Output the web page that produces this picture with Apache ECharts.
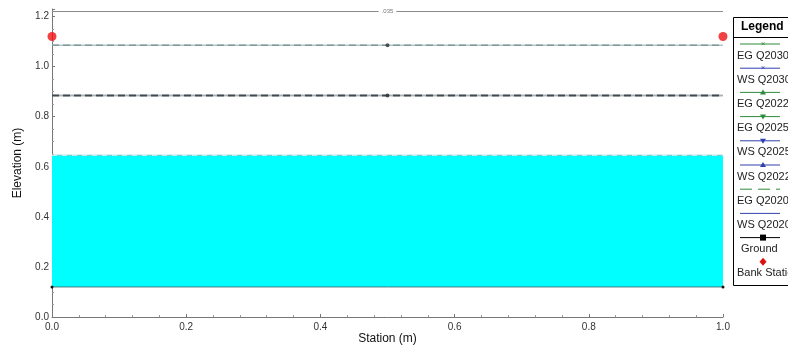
<!DOCTYPE html>
<html>
<head>
<meta charset="utf-8">
<script src="https://cdn.jsdelivr.net/npm/echarts@6/dist/echarts.min.js"></script>
<style>
  html, body { margin: 0; padding: 0; background: #fff; }
  #chart { width: 788px; height: 347px; }
</style>
</head>
<body>
<div id="chart"></div>
<script>
// cross section data (station in m, elevation in m)
const stations = [0, 0.5, 1]
const egQ2030 = [1.085, 1.085, 1.085]
const wsQ2030 = [1.085, 1.085, 1.085]
const egQ2022 = [0.885, 0.885, 0.885]
const egQ2025 = [0.885, 0.885, 0.885]
const wsQ2025 = [0.885, 0.885, 0.885]
const wsQ2022 = [0.885, 0.885, 0.885]
const egQ2020 = [0.646, 0.646, 0.646]
const wsQ2020 = [0.646, 0.646, 0.646]
const groundStations = [0, 1]
const groundElev = [0.12, 0.12]
const bankStations = [0, 1]
const bankElev = [1.12, 1.12]
const manningN = '.035'
const manningLineElev = 1.217
const legendNames = ['EG Q2030', 'WS Q2030', 'EG Q2022', 'EG Q2025', 'WS Q2025', 'WS Q2022', 'EG Q2020', 'WS Q2020', 'Ground', 'Bank Station']

const pts = (xs, ys) => xs.map((x, i) => [x, ys[i]])
const font = 'Liberation Sans, Arial, sans-serif'

const lineSeries = (name, ys, color, type, width, z) => ({
  name,
  type: 'line',
  data: pts(stations, ys),
  showSymbol: false,
  lineStyle: { color, width, type },
  z
})

const chart = echarts.init(document.getElementById('chart'))

// legend drawn as a box like the original (icon above label)
const legendIcons = [
  { color: '#2e8b3a', symbol: 'x' },
  { color: '#3040b0', symbol: 'x' },
  { color: '#2e8b3a', symbol: 'up' },
  { color: '#2e8b3a', symbol: 'down' },
  { color: '#3040b0', symbol: 'down' },
  { color: '#3040b0', symbol: 'up' },
  { color: '#2e8b3a', symbol: 'dash' },
  { color: '#3040b0', symbol: 'none' },
  { color: '#000', symbol: 'square' },
  { color: '#e01010', symbol: 'dot' }
]
const legendGraphics = [
  { type: 'rect', shape: { x: 733.5, y: 17.5, width: 80, height: 268 }, style: { fill: '#fff', stroke: '#000', lineWidth: 1 } },
  { type: 'line', shape: { x1: 733, y1: 37.5, x2: 788, y2: 37.5 }, style: { stroke: '#000', lineWidth: 1 } },
  { type: 'text', x: 741, y: 21, style: { text: 'Legend', font: 'bold 12px ' + font, fill: '#000' } }
]
legendNames.forEach((name, i) => {
  const ly = 44 + i * 24.2
  const ic = legendIcons[i]
  if (ic.symbol !== 'dot') {
    legendGraphics.push({ type: 'line', shape: { x1: 740, y1: ly, x2: 780, y2: ly }, style: { stroke: ic.color, lineWidth: 1, lineDash: ic.symbol === 'dash' ? [12, 6] : null } })
  }
  const cx = 763
  if (ic.symbol === 'up') legendGraphics.push({ type: 'polygon', shape: { points: [[cx - 3, ly + 2], [cx + 3, ly + 2], [cx, ly - 3]] }, style: { fill: ic.color } })
  if (ic.symbol === 'down') legendGraphics.push({ type: 'polygon', shape: { points: [[cx - 3, ly - 2], [cx + 3, ly - 2], [cx, ly + 3]] }, style: { fill: ic.color } })
  if (ic.symbol === 'x') legendGraphics.push({ type: 'text', x: cx, y: ly, style: { text: '\u00d7', font: '8px ' + font, fill: ic.color, align: 'center', verticalAlign: 'middle' } })
  if (ic.symbol === 'square') legendGraphics.push({ type: 'rect', shape: { x: cx - 3, y: ly - 3, width: 6, height: 6 }, style: { fill: '#000' } })
  if (ic.symbol === 'dot') legendGraphics.push({ type: 'polygon', shape: { points: [[cx, ly - 4], [cx + 3.5, ly], [cx, ly + 4], [cx - 3.5, ly]] }, style: { fill: ic.color } })
  const tx = name === 'Ground' ? 741 : 737
  legendGraphics.push({ type: 'text', x: tx, y: ly + 6, style: { text: name, font: '11px ' + font, fill: '#222' } })
})

const option = {
  animation: false,
  backgroundColor: '#fff',
  grid: { left: 52, right: 65, top: 9, bottom: 30, containLabel: false, outerBoundsMode: 'none' },
  xAxis: {
    type: 'value',
    min: 0,
    max: 1,
    interval: 0.2,
    name: 'Station (m)',
    nameLocation: 'middle',
    nameGap: 16,
    nameMoveOverlap: false,
    nameTextStyle: { fontFamily: font, fontSize: 12, color: '#111' },
    axisLine: { lineStyle: { color: '#777' } },
    axisTick: { inside: true, length: 3, lineStyle: { color: '#777' } },
    minorTick: { show: true, splitNumber: 5, length: 2, lineStyle: { color: '#999' } },
    axisLabel: { fontFamily: font, fontSize: 10, color: '#333', margin: 5, formatter: v => v.toFixed(1) },
    splitLine: { show: false }
  },
  yAxis: {
    type: 'value',
    min: 0,
    max: 1.23,
    interval: 0.2,
    name: 'Elevation (m)',
    nameLocation: 'middle',
    nameGap: 28,
    nameMoveOverlap: false,
    nameTextStyle: { fontFamily: font, fontSize: 12, color: '#111' },
    axisLine: { show: true, lineStyle: { color: '#777' } },
    axisTick: { show: true, inside: true, length: 3, lineStyle: { color: '#777' } },
    minorTick: { show: true, splitNumber: 4, length: 2, lineStyle: { color: '#999' } },
    axisLabel: { fontFamily: font, fontSize: 10, color: '#333', margin: 3, showMaxLabel: false, formatter: v => v.toFixed(1) },
    splitLine: { show: false }
  },
  graphic: legendGraphics,
  series: [
    {
      name: 'WS Q2020',
      type: 'line',
      data: pts(stations, wsQ2020),
      showSymbol: false,
      lineStyle: { color: '#6fc6cc', width: 1 },
      areaStyle: { color: '#00ffff', opacity: 1, origin: groundElev[0] },
      z: 2
    },
    lineSeries('EG Q2020', egQ2020, '#e8f4f4', [5, 5], 1, 3),
    lineSeries('WS Q2030', wsQ2030, '#b3c4c6', 'solid', 1.5, 2),
    lineSeries('EG Q2030', egQ2030, '#7d9a98', [7, 4], 1.5, 3),
    lineSeries('WS Q2025', wsQ2025, '#aab0b4', 'solid', 1.5, 2),
    lineSeries('WS Q2022', wsQ2022, '#aab0b4', 'solid', 1.5, 2),
    lineSeries('EG Q2022', egQ2022, '#3f4a52', [7, 4], 1.5, 3),
    lineSeries('EG Q2025', egQ2025, '#3f4a52', [7, 4], 1.5, 3),
    {
      name: 'Mid points',
      type: 'scatter',
      data: [[stations[1], egQ2030[1]], [stations[1], egQ2022[1]]],
      symbol: 'circle',
      symbolSize: 4,
      itemStyle: { color: '#333' },
      z: 4
    },
    {
      name: 'Ground',
      type: 'line',
      data: pts(groundStations, groundElev),
      symbol: 'circle',
      symbolSize: 3,
      itemStyle: { color: '#111' },
      lineStyle: { color: '#4a7a80', width: 1 },
      z: 4,
      markLine: {
        silent: true,
        symbol: ['none', 'none'],
        lineStyle: { color: '#8a8a8a', width: 1, type: 'solid' },
        label: {
          show: true,
          position: 'middle',
          formatter: manningN,
          fontSize: 6,
          color: '#777',
          backgroundColor: '#fff',
          padding: [0, 3],
          distance: -3
        },
        data: [{ yAxis: manningLineElev }]
      }
    },
    {
      name: 'Bank Station',
      type: 'scatter',
      data: pts(bankStations, bankElev),
      symbol: 'circle',
      symbolSize: 9,
      itemStyle: { color: '#ee1111' },
      z: 5
    }
  ]
}

chart.setOption(option)
</script>
</body>
</html>
